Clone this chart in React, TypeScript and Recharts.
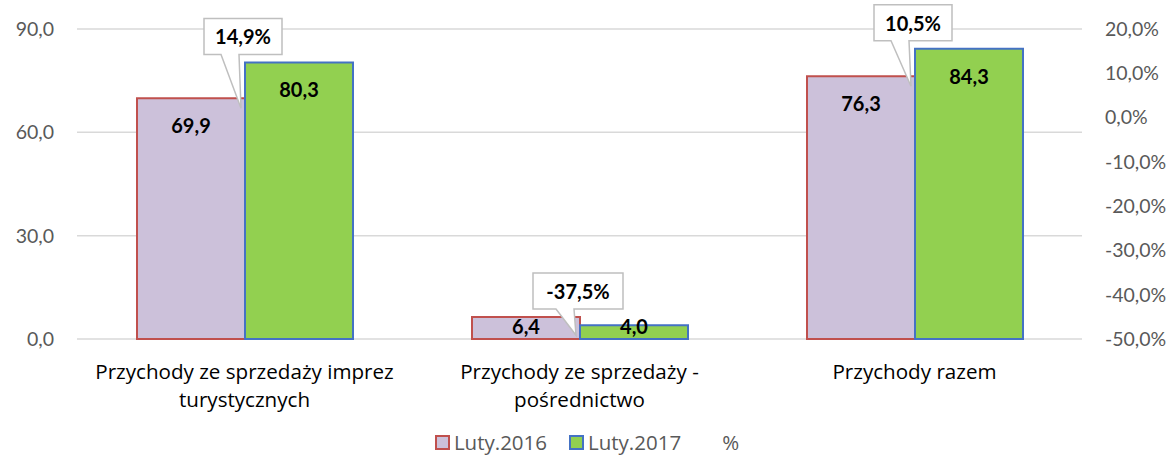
import { Bar, CartesianGrid, ComposedChart, LabelList, Legend, Line, XAxis, YAxis } from 'recharts'

const CATEGORIES = [
    'Przychody ze sprzedaży imprez\nturystycznych',
    'Przychody ze sprzedaży -\npośrednictwo',
    'Przychody razem'
]
const LUTY_2016 = [69.9, 6.4, 76.3]
const LUTY_2017 = [80.3, 4.0, 84.3]
const CHANGE_PCT = [14.9, -37.5, 10.5]
const LEFT_TICKS = [0, 30, 60, 90]
const RIGHT_TICKS = [-50, -40, -30, -20, -10, 0, 10, 20]
const SERIES_NAMES = ['Luty.2016', 'Luty.2017', '%']

const FONT = 'Lato, "Open Sans", sans-serif'
const TEXT_FONT = '"Open Sans", Lato, sans-serif'
const GREY = '#595959'
const FILL_2016 = '#CCC1DA'
const STROKE_2016 = '#C0504D'
const FILL_2017 = '#92D050'
const STROKE_2017 = '#4472C4'

const data = CATEGORIES.map((name, i) => ({
    name,
    y2016: LUTY_2016[i],
    y2017: LUTY_2017[i],
    pct: CHANGE_PCT[i]
}))

function comma(v: number): string {
    return v.toFixed(1).replace('.', ',')
}

function CategoryTick(props: any) {
    const { x, y, payload } = props
    const lines = String(payload.value).split('\n')
    return (
        <g>
            {lines.map((line, i) => (
                <text
                    key={i}
                    x={x}
                    y={y + 30 + i * 28}
                    textAnchor="middle"
                    dominantBaseline="central"
                    fill="#000"
                    fontSize={20.6}
                    fontFamily={TEXT_FONT}
                >
                    {line}
                </text>
            ))}
        </g>
    )
}

// short bars: keep the label inside, sitting on the axis
function ValueLabel(props: any) {
    const { x, y, width, height, value } = props
    const ly = Math.min(y + 27, y + height - 13)
    return (
        <text
            x={x + width / 2}
            y={ly}
            textAnchor="middle"
            dominantBaseline="central"
            fill="#000"
            fontSize={20}
            fontWeight="bold"
            fontFamily={FONT}
        >
            {comma(Number(value))}
        </text>
    )
}

// callout sits on the 2017 bar; the 2016 top is worked out from the same scale
function Callout(props: any) {
    const { x, y, width, height, index } = props
    const v17 = LUTY_2017[index]
    const perUnit = v17 ? height / v17 : 0
    const bottom = y + height
    const top16 = bottom - LUTY_2016[index] * perUnit
    const label = `${comma(CHANGE_PCT[index])}%`
    const w = label.length * 12 + 18
    const h = 36
    const cx = x + (width > 0 ? -2 : 0)
    const boxBottom = Math.min(y, top16) - 8
    const boxTop = boxBottom - h
    const left = cx - w / 2
    const right = cx + w / 2
    const tipX = x - 4
    const tipY = Math.max(y, top16) + 10
    const path = [
        `M${left},${boxTop}`,
        `L${right},${boxTop}`,
        `L${right},${boxBottom}`,
        `L${tipX - 2},${boxBottom}`,
        `L${tipX},${tipY}`,
        `L${tipX - 20},${boxBottom}`,
        `L${left},${boxBottom}`,
        'Z'
    ].join(' ')
    return (
        <g>
            <path d={path} fill="#fff" stroke="#BFBFBF" strokeWidth={1.5} />
            <text
                x={cx}
                y={(boxTop + boxBottom) / 2}
                textAnchor="middle"
                dominantBaseline="central"
                fill="#000"
                fontSize={20}
                fontWeight="bold"
                fontFamily={FONT}
            >
                {label}
            </text>
        </g>
    )
}

function LegendContent() {
    const icons = [
        { fill: FILL_2016, stroke: STROKE_2016 },
        { fill: FILL_2017, stroke: STROKE_2017 },
        { fill: 'transparent', stroke: 'transparent' }
    ]
    return (
        <div
            style={{
                display: 'flex',
                justifyContent: 'center',
                alignItems: 'center',
                height: 30,
                fontFamily: TEXT_FONT,
                fontSize: 20.5,
                color: GREY
            }}
        >
            {SERIES_NAMES.map((name, i) => (
                <div key={name} style={{ display: 'flex', alignItems: 'center', marginRight: i < 2 ? 22 : 0 }}>
                    <span
                        style={{
                            display: 'inline-block',
                            width: 11,
                            height: 11,
                            background: icons[i].fill,
                            border: `2px solid ${icons[i].stroke}`,
                            marginRight: 4
                        }}
                    />
                    <span>{name}</span>
                </div>
            ))}
        </div>
    )
}

export default function App() {
    return (
        <div style={{ position: 'absolute', left: 0, top: 0, background: '#fff' }}>
            <ComposedChart
                width={1174}
                height={457}
                data={data}
                margin={{ top: 29, right: 0, bottom: 0, left: 0 }}
                barGap={0}
            >
                <CartesianGrid yAxisId="left" vertical={false} stroke="#D9D9D9" strokeWidth={1.5} />
                <XAxis
                    dataKey="name"
                    height={88}
                    tickLine={false}
                    axisLine={false}
                    tickSize={0}
                    tick={<CategoryTick />}
                    interval={0}
                />
                <YAxis
                    yAxisId="left"
                    width={77}
                    domain={[0, 90]}
                    ticks={LEFT_TICKS}
                    tickFormatter={(v) => comma(Number(v))}
                    tickLine={false}
                    axisLine={false}
                    tickSize={0}
                    tickMargin={23}
                    tick={{ fill: GREY, fontSize: 19.5, fontFamily: FONT }}
                />
                <YAxis
                    yAxisId="right"
                    orientation="right"
                    width={92}
                    domain={[-50, 20]}
                    ticks={RIGHT_TICKS}
                    tickFormatter={(v) => `${comma(Number(v))}%`}
                    tickLine={false}
                    axisLine={false}
                    tickSize={0}
                    tickMargin={23}
                    tick={{ fill: GREY, fontSize: 19.5, fontFamily: FONT }}
                />
                <Legend verticalAlign="bottom" height={30} content={<LegendContent />} />
                <Bar
                    yAxisId="left"
                    dataKey="y2016"
                    name={SERIES_NAMES[0]}
                    fill={FILL_2016}
                    stroke={STROKE_2016}
                    strokeWidth={2}
                    barSize={108}
                    isAnimationActive={false}
                >
                    <LabelList dataKey="y2016" content={<ValueLabel />} />
                </Bar>
                <Bar
                    yAxisId="left"
                    dataKey="y2017"
                    name={SERIES_NAMES[1]}
                    fill={FILL_2017}
                    stroke={STROKE_2017}
                    strokeWidth={2}
                    barSize={108}
                    isAnimationActive={false}
                >
                    <LabelList dataKey="y2017" content={<ValueLabel />} />
                    <LabelList dataKey="pct" content={<Callout />} />
                </Bar>
                <Line
                    yAxisId="right"
                    dataKey="pct"
                    name={SERIES_NAMES[2]}
                    stroke="none"
                    dot={false}
                    activeDot={false}
                    isAnimationActive={false}
                />
            </ComposedChart>
        </div>
    )
}
